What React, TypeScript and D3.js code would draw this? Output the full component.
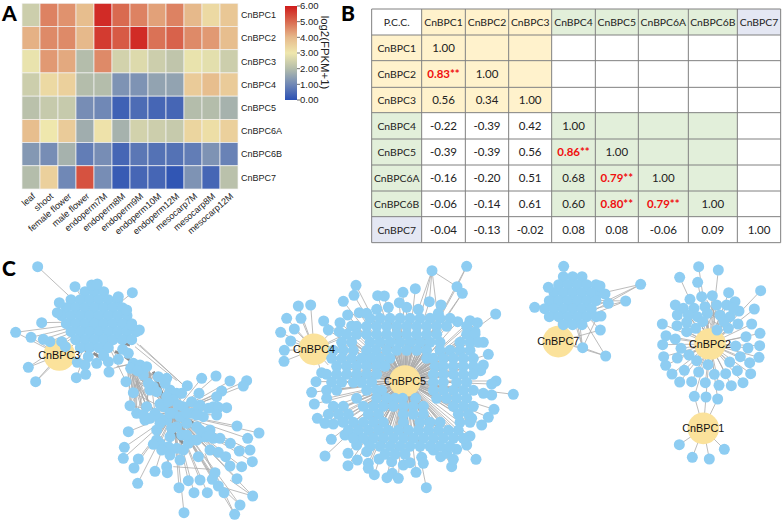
import React from "react";
import * as d3 from "d3";

const genes = ["CnBPC1","CnBPC2","CnBPC3","CnBPC4","CnBPC5","CnBPC6A","CnBPC6B","CnBPC7"];
const tissues = ["leaf","shoot","female flower","male flower","endoperm7M","endoperm8M","endoperm9M","endoperm10M","endoperm12M","mesocarp7M","mesocarp8M","mesocarp12M"];
const expression = [
  [2.4,4.7,4.5,3.9,5.8,5.0,4.7,4.3,4.7,4.0,3.3,3.7],
  [4.1,4.6,4.6,4.0,5.6,5.2,5.8,4.9,5.1,4.6,4.4,3.9],
  [2.9,4.4,4.2,2.0,4.6,2.5,2.7,2.4,2.2,2.9,2.8,2.4],
  [2.4,3.3,3.5,2.0,2.0,1.2,1.2,1.5,1.5,3.6,3.9,3.6],
  [2.1,2.3,2.3,1.1,1.0,0.3,0.5,0.4,0.4,2.0,2.0,1.8],
  [3.9,3.0,3.6,1.7,3.1,1.8,2.5,2.4,2.3,3.4,3.2,3.5],
  [1.3,1.1,1.8,0.8,1.1,0.4,0.7,0.6,0.6,0.8,1.2,0.9],
  [2.0,3.5,1.0,5.3,1.1,0.2,0.4,0.4,0.1,1.2,0.4,2.1],
];
const colorStops = [0,1,2,3,4,5,6];
const colorValues = ["#2a50b4","#7088b6","#b4bdab","#efe7ad","#e6b98b","#d96a50","#cf1b1b"];
const legendTicks = [0,1,2,3,4,5,6];

const tableHeaders = ["P.C.C.",...genes];
const pcc: string[][] = [
  ["1.00"],
  ["0.83**","1.00"],
  ["0.56","0.34","1.00"],
  ["-0.22","-0.39","0.42","1.00"],
  ["-0.39","-0.39","0.56","0.86**","1.00"],
  ["-0.16","-0.20","0.51","0.68","0.79**","1.00"],
  ["-0.06","-0.14","0.61","0.60","0.80**","0.79**","1.00"],
  ["-0.04","-0.13","-0.02","0.08","0.08","-0.06","0.09","1.00"],
];
const geneGroup = [0,0,0,1,1,1,1,2];
const colEdges = [95,245,376,506,635,766,895,1045,1192,1322];
const rowEdges = [27,105,182,262,338,417,495,573,650,728];

type Rows = [number, number[]][];
const expand = (rows: Rows) => rows.flatMap(([y, xs]) => xs.map(x => [x, y]));

const upperBlob = expand([
  [125,[255,283,311]],
  [149,[213,241,269,297,325,353]],
  [173,[199,227,255,283,311,339,367]],
  [197,[185,213,241,269,297,325,353,381]],
  [221,[199,227,255,283,311,339,367,395]],
  [245,[213,241,269,297,325,353,381,409]],
  [269,[227,255,283,311,339,367,395]],
  [293,[241,269,297,325]],
  [317,[311]],
]);
const upperOuter = [[113,50],[397,128],[225,110],[275,105],[292,102],[355,140],[178,158],[172,188],[125,218],[47,247],[93,262],[130,268],[150,275],[185,275],[85,352],[107,395],[229,383],[257,373],[327,366],[290,340],[232,337],[265,320],[325,335],[355,328],[378,395],[418,240],[395,225],[380,180],[255,345]];
const c3Cover = [[196,290]];
const lowerInner = [[400,428],[430,375],[460,410],[475,380],[500,385],[510,420],[530,430],[390,467],[410,490],[435,510],[465,490],[490,470],[520,490],[550,470],[575,455],[600,465],[625,475],[610,500],[590,530],[560,520],[530,530],[500,510],[470,540],[510,560],[545,555],[575,570],[610,560],[630,540],[550,600],[505,590],[480,580],[440,470],[400,340],[368,298],[420,345],[440,350],[500,440],[450,420],[520,450],[540,500],[575,490],[445,400],[470,425],[495,400],[545,430],[480,462],[505,455],[535,465],[595,475],[430,495],[450,505],[480,505],[510,490],[560,490],[590,495],[640,470],[515,535],[480,520],[600,540],[620,560],[640,565],[590,570],[565,580],[530,595],[470,570],[560,555],[392,355],[412,362],[385,310]];
const lowerOuter = [[605,385],[648,378],[690,393],[740,392],[730,408],[665,423],[650,440],[597,430],[562,407],[385,545],[373,592],[370,625],[415,627],[402,654],[465,664],[500,650],[502,668],[413,700],[537,713],[552,788],[565,692],[600,690],[582,728],[622,728],[672,728],[655,708],[637,688],[645,668],[711,686],[725,650],[690,648],[757,635],[750,600],[718,603],[743,565],[777,549],[691,580],[711,528],[680,473],[655,472],[650,495],[595,620],[540,630],[510,615],[485,600],[460,583],[630,600],[655,607],[677,620],[758,738],[720,765],[704,793],[660,565],[630,555]];
const bridgeTargets = [[400,428],[430,375],[460,410],[475,380],[390,467],[410,490],[435,510],[465,490],[440,470],[420,345],[440,350],[450,420]];
const bridgeSources = [[385,345],[410,395],[450,370],[400,360]];
const bridgeLines = [[[410,280],[545,400]],[[420,285],[555,410]],[[405,290],[530,392]],[[380,345],[392,430]],[[350,350],[420,340]],[[340,355],[395,340]],[[640,690],[720,765]],[[645,668],[704,793]],[[520,650],[660,660]],[[615,610],[660,720]],[[690,690],[758,738]],[[655,708],[758,738]]];
const upperBands = [[[375,320],[395,335]],[[460,365],[490,440]],[[490,440],[525,465]],[[565,510],[590,525]],[[510,535],[550,580]],[[345,305],[362,310]],[[280,310],[300,322]],[[365,278],[390,285]],[[250,298],[270,305]]];

const c5Outer = [[486,62],[590,49],[561,110],[577,130],[258,106],[252,136],[220,154],[399,127],[436,116],[323,137],[343,138],[388,158],[478,155],[513,165],[677,192],[233,195],[268,188],[290,190],[320,178],[355,172],[410,172],[445,178],[161,213],[210,218],[245,228],[505,190],[563,215],[600,212],[622,218],[175,240],[208,245],[615,245],[640,277],[655,313],[640,345],[632,362],[155,368],[138,395],[125,427],[133,462],[142,505],[165,520],[190,522],[218,515],[678,393],[665,402],[730,433],[665,435],[640,430],[672,478],[655,502],[635,525],[605,505],[184,568],[165,618],[234,610],[234,647],[262,630],[295,640],[295,655],[313,674],[351,683],[367,670],[385,685],[327,627],[365,635],[400,645],[420,638],[455,622],[460,640],[438,667],[469,713],[512,620],[545,650],[550,628],[618,628],[590,585],[600,558],[560,598],[530,610],[490,600],[225,555],[260,585],[258,560],[295,575],[290,605]];
const c5Ring = expand([
  [205,[300,330,360,390,420,450,480,510,540]],
  [229,[260,290,320,350,380,410,440,470,500,530,590]],
  [253,[230,260,290,320,350,380,410,440,470,500,590,615]],
  [277,[215,245,300,330,360,390,420,450,480,510,570,600,625]],
  [301,[190,220,250,290,318,350,380,410,440,470,510,540,570,600]],
  [325,[185,215,245,275,303,330,360,470,490,520,550,580,610]],
  [349,[200,230,260,290,320,345,495,520,550,580,610]],
  [373,[170,200,230,260,290,320,490,520,550,580,610]],
  [397,[185,215,250,275,305,490,520,560,590]],
  [421,[170,200,290,320,335,490,520,550,580,610]],
  [445,[170,260,320,350,375,398,437,500,530,560,590]],
  [469,[190,220,280,310,340,370,400,430,460,550,580,610]],
  [493,[175,205,235,295,325,400,430,460,565,595]],
  [517,[220,250,280,310,340,400,450,480,510,570,600]],
  [541,[235,265,295,325,355,385,415,445,475,505,535,565]],
  [565,[250,280,310,340,370,400,430,460,490,520,550,580]],
  [589,[300,330,360,390,420,450,480,510,540]],
  [613,[345,375,405]],
]);
const c4Leaves = [[85,168],[122,165],[50,205],[93,205],[73,237],[32,247],[62,273],[43,301],[42,334]];
const c4Spokes = [[190,240],[210,260],[225,290],[175,345],[150,355],[215,265]];
const c7Blob = expand([
  [80,[130,158,186]],
  [104,[116,144,172,200,228]],
  [128,[102,130,158,186,214,242]],
  [152,[88,116,144,172,200,228]],
  [176,[74,102,130,158,186,214]],
  [200,[88,116,144,172,200,228]],
  [224,[130,158,186]],
]);
const c7Outer = [[131,49],[362,103],[317,153],[265,160],[243,198],[241,240],[188,293],[257,318],[44,172],[85,112],[240,108],[255,132]];
const c7Extra = [[[225,180],[362,103]],[[235,165],[362,103]],[[225,190],[317,153]],[[230,175],[317,153]],[[170,235],[188,293]],[[180,230],[188,293]],[[225,215],[188,293]],[[188,293],[257,318]],[[115,200],[115,235]]];
const c2Leaves = [[536,50],[595,60],[479,82],[533,97],[722,122],[703,177],[626,128],[577,137],[545,140],[510,148],[466,165],[645,155],[657,183],[490,175],[522,175],[555,170],[590,165],[620,165],[472,195],[427,222],[471,227],[500,217],[532,200],[562,190],[600,195],[630,200],[654,222],[695,222],[720,250],[678,260],[438,257],[466,267],[500,245],[527,235],[625,235],[591,240],[428,284],[483,295],[647,288],[684,294],[719,287],[431,320],[472,324],[507,315],[661,320],[717,322],[437,346],[530,332],[629,336],[689,338],[456,372],[493,361],[536,366],[564,344],[583,373],[617,371],[652,362],[692,371],[479,396],[515,395],[556,398],[597,406],[634,407],[669,398],[523,439],[558,441],[593,447],[505,195],[640,175],[548,215],[612,215]];
const c2Extra = [[[575,155],[585,225]],[[560,150],[600,215]],[[590,160],[565,222]],[[565,190],[595,205]],[[575,205],[590,185]],[[580,215],[600,225]],[[555,205],[575,225]],[[600,180],[570,200]]];
const c1Leaves = [[478,584],[517,622],[568,627],[613,598],[523,439],[558,441],[593,447]];

const upperHub = [290,215], lowerHub = [520,490];
const c3Hub = [178,315], c4Hub = [132,298], c5Hub = [405,393], c7Hub = [115,275], c2Hub = [570,282], c1Hub = [550,535], c7Center = [155,150];

const FONT = "'Liberation Sans', Arial, sans-serif";
const BLUE = "#8ecdf2", HUB = "#fbe29b", EDGE = "#ababab";

function Network({ox,oy,hubs,nodes,links,bands=[],cover=[]}:{ox:number;oy:number;hubs:{at:number[];label:string}[];nodes:number[][];links:number[][][];bands?:number[][][];cover?:number[][]}){
  const sx = d3.scaleLinear().domain([0,300]).range([ox,ox+100]);
  const sy = d3.scaleLinear().domain([0,300]).range([oy,oy+100]);
  return <g>
    {links.map((l,i)=><line key={i} x1={sx(l[0][0])} y1={sy(l[0][1])} x2={sx(l[1][0])} y2={sy(l[1][1])} stroke={EDGE} strokeWidth={0.8}/>)}
    {bands.map((l,i)=><line key={i} x1={sx(l[0][0])} y1={sy(l[0][1])} x2={sx(l[1][0])} y2={sy(l[1][1])} stroke="#8c8c8c" strokeWidth={3}/>)}
    {hubs.map(h=><circle key={h.label} cx={sx(h.at[0])} cy={sy(h.at[1])} r={15.8} fill={HUB}/>)}
    {nodes.map((n,i)=><circle key={i} cx={sx(n[0])} cy={sy(n[1])} r={5.5} fill={BLUE}/>)}
    {hubs.map(h=><text key={h.label} x={sx(h.at[0])} y={sy(h.at[1])+3.8} textAnchor="middle" fontFamily={FONT} fontSize={10.8} fill="#111">{h.label}</text>)}
    {cover.map((n,i)=><circle key={i} cx={sx(n[0])} cy={sy(n[1])} r={5.5} fill={BLUE}/>)}
  </g>;
}

const star = (hub:number[],leaves:number[][])=>leaves.map(p=>[hub,p]);

export default function App(){
  const x = d3.scaleBand().domain(tissues).range([22,238]);
  const y = d3.scaleBand().domain(genes).range([3.3,189]);
  const color = d3.scaleLinear<string>().domain(colorStops).range(colorValues);
  const barY = d3.scaleLinear().domain([0,6]).range([100,6]);
  const tx = d3.scaleLinear().domain([0,1326]).range([340,782]);
  const ty = d3.scaleLinear().domain([0,750]).range([0,250]);
  const gradStops = d3.range(0,6.01,0.5);
  const fills = ["#fff2cc","#e2efda","#e4e7f3"];

  const c3Links = [...star(upperHub,upperOuter),...star(c3Hub,upperOuter.slice(9,16)),...star(lowerHub,lowerOuter),...star(lowerHub,lowerInner),...bridgeSources.flatMap(s=>star(s,bridgeTargets)),...bridgeLines];
  const c5All = [...c5Outer,...c5Ring];
  const c5Links = [...star(c5Hub,c5All),[[486,62],[561,110]],[[486,62],[478,155]],[[486,62],[445,178]],[[486,62],[500,175]],[[590,49],[561,110]],[[577,130],[535,190]]];
  return <svg width={782} height={521} style={{position:"absolute",left:0,top:0,display:"block",background:"#fff"}}>
    <defs>
      <linearGradient id="bar" x1="0" x2="0" y1="1" y2="0">
        {gradStops.map(v=><stop key={v} offset={v/6} stopColor={color(v)}/>)}
      </linearGradient>
    </defs>
    <g fontFamily="Lato, sans-serif" fontWeight={900} fontSize={21} fill="#000">
      <text x={2} y={21}>A</text>
      <text x={341} y={21}>B</text>
      <text x={2} y={276}>C</text>
    </g>
    {expression.map((row,r)=>row.map((v,c)=><rect key={r+"-"+c} x={x(tissues[c])} y={y(genes[r])} width={x.bandwidth()} height={y.bandwidth()} fill={color(v)} stroke="#f2f2f2" strokeWidth={0.7}/>))}
    {genes.map(g=><text key={g} x={241} y={y(g)!+y.bandwidth()/2+3.2} fontFamily={FONT} fontSize={9} fill="#222">{g}</text>)}
    {tissues.map(t=>{const px=x(t)!+x.bandwidth()/2+5;return <text key={t} transform={`translate(${px},197) rotate(-41)`} textAnchor="end" fontFamily={FONT} fontSize={9} fill="#222">{t}</text>;})}
    <rect x={285} y={6} width={12} height={94} fill="url(#bar)"/>
    {legendTicks.map(v=><g key={v}><line x1={297} x2={300} y1={barY(v)} y2={barY(v)} stroke="#333" strokeWidth={0.7}/><text x={300} y={barY(v)+3.3} fontFamily={FONT} fontSize={9.5} fill="#222">{v.toFixed(2)}</text></g>)}
    <text transform="translate(321,52.5) rotate(90)" textAnchor="middle" fontFamily={FONT} fontSize={11.4} fill="#222">log2(FPKM+1)</text>

    {/* table */}
    {tableHeaders.slice(1).map((g,i)=><rect key={g} x={tx(colEdges[i+1])} y={ty(rowEdges[0])} width={tx(colEdges[i+2])-tx(colEdges[i+1])} height={ty(rowEdges[1])-ty(rowEdges[0])} fill={fills[geneGroup[i]]}/>)}
    {genes.map((g,i)=><rect key={g} x={tx(colEdges[0])} y={ty(rowEdges[i+1])} width={tx(colEdges[1])-tx(colEdges[0])} height={ty(rowEdges[i+2])-ty(rowEdges[i+1])} fill={fills[geneGroup[i]]}/>)}
    {genes.flatMap((_,r)=>genes.map((_,c)=>{
      if(geneGroup[r]!==geneGroup[c]||geneGroup[r]===2) return null;
      return <rect key={r+"_"+c} x={tx(colEdges[c+1])} y={ty(rowEdges[r+1])} width={tx(colEdges[c+2])-tx(colEdges[c+1])} height={ty(rowEdges[r+2])-ty(rowEdges[r+1])} fill={fills[geneGroup[r]]}/>;
    }))}
    {colEdges.map(e=><line key={e} x1={tx(e)} x2={tx(e)} y1={ty(rowEdges[0])} y2={ty(rowEdges[9])} stroke="#808080" strokeWidth={1}/>)}
    {rowEdges.map(e=><line key={e} y1={ty(e)} y2={ty(e)} x1={tx(colEdges[0])} x2={tx(colEdges[9])} stroke="#808080" strokeWidth={1}/>)}
    <g fontFamily="Lato, sans-serif" fontSize={10.4} fill="#222" textAnchor="middle">
      {tableHeaders.map((h,i)=><text key={h} x={(tx(colEdges[i])+tx(colEdges[i+1]))/2} y={(ty(rowEdges[0])+ty(rowEdges[1]))/2+4}>{h}</text>)}
      {genes.map((g,i)=><text key={g} x={(tx(colEdges[0])+tx(colEdges[1]))/2} y={(ty(rowEdges[i+1])+ty(rowEdges[i+2]))/2+4}>{g}</text>)}
      {pcc.flatMap((row,r)=>row.map((v,c)=>{const sig=v.includes("*");return <text key={r+"/"+c} fontSize={11.5} x={(tx(colEdges[c+1])+tx(colEdges[c+2]))/2} y={(ty(rowEdges[r+1])+ty(rowEdges[r+2]))/2+4} fill={sig?"#f01010":"#222"} fontWeight={sig?700:400}>{v}</text>;}))}
    </g>

    {/* networks */}
    <Network ox={0} oy={250} hubs={[{at:c3Hub,label:"CnBPC3"}]} nodes={[...upperBlob,...upperOuter,...lowerInner,...lowerOuter]} links={c3Links} bands={upperBands} cover={c3Cover}/>
    <Network ox={270} oy={250} hubs={[{at:c4Hub,label:"CnBPC4"},{at:c5Hub,label:"CnBPC5"}]} nodes={[...c5All,...c4Leaves]} links={[...c5Links,...star(c4Hub,c4Leaves),...star(c4Hub,c4Spokes)]}/>
    <Network ox={520} oy={250} hubs={[{at:c7Hub,label:"CnBPC7"},{at:c2Hub,label:"CnBPC2"},{at:c1Hub,label:"CnBPC1"}]} nodes={[...c7Blob,...c7Outer,...c2Leaves,...c1Leaves.slice(0,4)]} links={[...star(c7Hub,c7Outer.slice(5,8)),...star(c7Center,c7Outer),...c7Extra,...star(c2Hub,c2Leaves),...c2Extra,...star(c1Hub,c1Leaves)]}/>
  </svg>;
}
